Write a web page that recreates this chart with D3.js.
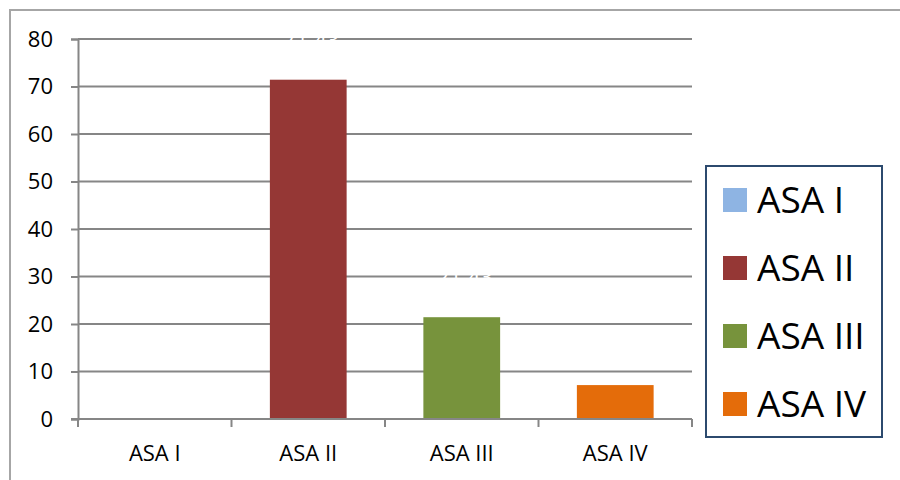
<!DOCTYPE html>
<html>
<head>
<meta charset="utf-8">
<script src="https://cdn.jsdelivr.net/npm/d3@7"></script>
<style>
  body { margin: 0; background: #fff; }
  text { font-family: "Open Sans", "Liberation Sans", sans-serif; }
</style>
</head>
<body>
<svg id="chart" width="900" height="480"></svg>
<script>
const categories = ["ASA I", "ASA II", "ASA III", "ASA IV"];
const values = [0, 71.43, 21.43, 7.14];
const valueLabels = ["", "71.43", "21.43", "7.14"];
const colors = ["#8eb4e3", "#953735", "#77933c", "#e46c0a"];
const yTicks = [0, 10, 20, 30, 40, 50, 60, 70, 80];

const svg = d3.select("#chart");

// outer chart frame (only top and left edges show)
svg.append("rect")
    .attr("x", 10).attr("y", 10)
    .attr("width", 1000).attr("height", 600)
    .attr("fill", "none")
    .attr("stroke", "#a6a6a6")
    .attr("stroke-width", 2);

const plot = { left: 78, right: 692, top: 39, bottom: 419 };

const x = d3.scaleBand()
    .domain(categories)
    .range([plot.left, plot.right])
    .paddingInner(0.5)
    .paddingOuter(0.25);

const xOuter = d3.scaleBand()
    .domain(categories)
    .range([plot.left, plot.right]);

const y = d3.scaleLinear()
    .domain([0, 80])
    .range([plot.bottom, plot.top]);

// gridlines
svg.append("g")
    .selectAll("line")
    .data(yTicks.filter(d => d > 0))
    .join("line")
    .attr("x1", plot.left).attr("x2", plot.right)
    .attr("y1", d => y(d)).attr("y2", d => y(d))
    .attr("stroke", "#868686")
    .attr("stroke-width", 2);

// y axis
const yAxis = svg.append("g")
    .attr("transform", `translate(${plot.left},0)`)
    .call(d3.axisLeft(y).tickValues(yTicks).tickSize(7).tickPadding(18));
yAxis.select(".domain").attr("stroke", "#868686").attr("stroke-width", 2);
yAxis.selectAll(".tick line").attr("stroke", "#868686").attr("stroke-width", 2);
yAxis.selectAll(".tick text")
    .style("font-size", "22px")
    .attr("fill", "#000");

// bars
svg.append("g")
    .selectAll("rect")
    .data(values)
    .join("rect")
    .attr("x", (d, i) => x(categories[i]))
    .attr("width", x.bandwidth())
    .attr("y", d => y(d))
    .attr("height", d => y(0) - y(d))
    .attr("fill", (d, i) => colors[i]);

// white data labels (only visible where they cross gridlines)
svg.append("g")
    .selectAll("text")
    .data(values)
    .join("text")
    .attr("x", (d, i) => x(categories[i]) + x.bandwidth() / 2 + 3)
    .attr("y", d => y(d) - 32)
    .attr("text-anchor", "middle")
    .style("font-size", "22px")
    .attr("fill", "#fff")
    .text((d, i) => valueLabels[i]);

// x axis
const xAxis = svg.append("g")
    .attr("transform", `translate(0,${plot.bottom})`)
    .call(d3.axisBottom(xOuter).tickSize(0).tickPadding(26));
xAxis.select(".domain").remove();
xAxis.selectAll(".tick text")
    .style("font-size", "22px")
    .attr("fill", "#000");
svg.append("line")
    .attr("x1", plot.left - 7).attr("x2", plot.right)
    .attr("y1", plot.bottom).attr("y2", plot.bottom)
    .attr("stroke", "#868686").attr("stroke-width", 2);
svg.append("g")
    .selectAll("line")
    .data(categories.concat(["end"]))
    .join("line")
    .attr("x1", (d, i) => plot.left + i * xOuter.step())
    .attr("x2", (d, i) => plot.left + i * xOuter.step())
    .attr("y1", plot.bottom).attr("y2", plot.bottom + 8)
    .attr("stroke", "#868686").attr("stroke-width", 2);

// legend
const legend = svg.append("g").attr("transform", "translate(706,166)");
legend.append("rect")
    .attr("width", 176).attr("height", 271)
    .attr("fill", "#fff")
    .attr("stroke", "#2c4a6e")
    .attr("stroke-width", 2);
const items = legend.selectAll(".item")
    .data(categories)
    .join("g")
    .attr("class", "item")
    .attr("transform", (d, i) => `translate(0,${34 + i * 68})`);
items.append("rect")
    .attr("x", 17).attr("y", -12)
    .attr("width", 24).attr("height", 24)
    .attr("fill", (d, i) => colors[i]);
items.append("text")
    .attr("x", 51).attr("y", 13)
    .style("font-size", "37px")
    .attr("fill", "#000")
    .text(d => d);
</script>
</body>
</html>
